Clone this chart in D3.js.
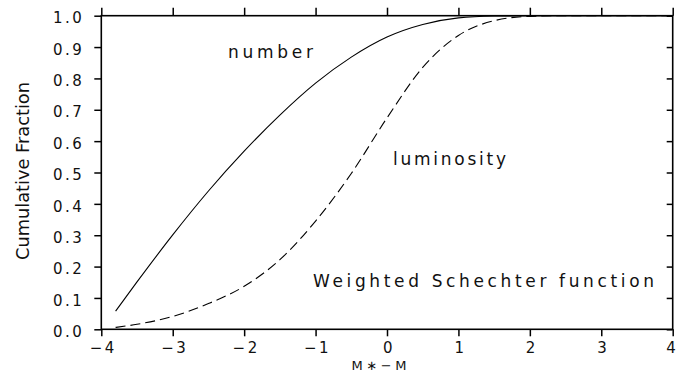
<!DOCTYPE html>
<html>
<head>
<meta charset="utf-8">
<script src="https://cdn.jsdelivr.net/npm/d3@7"></script>
<style>
  html, body { margin: 0; padding: 0; background: #fff; }
  svg { display: block; font-family: "DejaVu Sans", sans-serif; }
</style>
</head>
<body>
<div id="chart"></div>
<script>
const magDiff = [-3.8, -3.5, -3.0, -2.5, -2.0, -1.5, -1.0, -0.5, 0.0, 0.5, 1.0, 1.5, 2.0, 2.5, 3.0, 4.0];
const numberFrac = [0.058, 0.151, 0.301, 0.441, 0.568, 0.683, 0.785, 0.868, 0.932, 0.972, 0.993, 0.999, 1.0, 1.0, 1.0, 1.0];
const lumFrac = [0.006, 0.016, 0.041, 0.082, 0.137, 0.222, 0.345, 0.497, 0.674, 0.835, 0.937, 0.984, 0.998, 1.0, 1.0, 1.0];

const xTicks = [-4, -3, -2, -1, 0, 1, 2, 3, 4];
const yTicks = [0, 0.1, 0.2, 0.3, 0.4, 0.5, 0.6, 0.7, 0.8, 0.9, 1.0];

const W = 677, H = 375;
const margin = { top: 15.7, right: 4.3, bottom: 45.7, left: 101.3 };
const iw = W - margin.left - margin.right;
const ih = H - margin.top - margin.bottom;
const font = '"DejaVu Sans", sans-serif';

const svg = d3.select('#chart').append('svg')
  .attr('width', W)
  .attr('height', H);

const g = svg.append('g')
  .attr('transform', `translate(${margin.left},${margin.top})`);

const x = d3.scaleLinear().domain([-4, 4]).range([0, iw]);
const y = d3.scaleLinear().domain([0, 1]).range([ih, 0]);

const minus = v => d3.format('d')(v).replace('-', '\u2212');

// axes
const styleAxis = sel => {
  sel.attr('font-family', font);
  sel.select('.domain').remove();
  sel.selectAll('.tick line').attr('stroke', '#000').attr('stroke-width', 1.5);
  sel.selectAll('text')
    .attr('font-size', 15)
    .attr('fill', '#111')
    .attr('letter-spacing', '2.5px');
};

g.append('g')
  .attr('transform', `translate(0,${ih})`)
  .call(d3.axisBottom(x).tickValues(xTicks).tickFormat(minus).tickSize(7).tickPadding(6))
  .call(styleAxis)
  .call(s => s.selectAll('text').attr('dx', d => d === 4 ? '-1px' : '1.5px'));

g.append('g')
  .call(d3.axisTop(x).tickValues(xTicks).tickFormat('').tickSize(8))
  .call(styleAxis);

g.append('g')
  .call(d3.axisLeft(y).tickValues(yTicks).tickFormat(d3.format('.1f')).tickSize(7).tickPadding(10))
  .call(styleAxis)
  .call(s => s.selectAll('text').attr('dy', '0.48em'));

g.append('g')
  .attr('transform', `translate(${iw},0)`)
  .call(d3.axisLeft(y).tickValues(yTicks).tickFormat('').tickSize(6))
  .call(styleAxis)
  .call(s => s.selectAll('.tick line').attr('x2', -6));

// frame
g.append('rect')
  .attr('width', iw)
  .attr('height', ih)
  .attr('fill', 'none')
  .attr('stroke', '#000')
  .attr('stroke-width', 1.6);

// curves
const line = d3.line()
  .x(d => x(d[0]))
  .y(d => y(d[1]))
  .curve(d3.curveMonotoneX);

g.append('path')
  .datum(d3.zip(magDiff, numberFrac))
  .attr('d', line)
  .attr('fill', 'none')
  .attr('stroke', '#000')
  .attr('stroke-width', 1.1);

g.append('path')
  .datum(d3.zip(magDiff, lumFrac))
  .attr('d', line)
  .attr('fill', 'none')
  .attr('stroke', '#000')
  .attr('stroke-width', 1.1)
  .attr('stroke-dasharray', '10,5');

// annotations
const notes = [
  { text: 'number', mx: -2.226, f: 0.865, len: 85 },
  { text: 'luminosity', mx: 0.084, f: 0.524, len: 113 },
  { text: 'Weighted Schechter function', mx: -1.036, f: 0.135, len: 341 }
];
g.selectAll('text.note')
  .data(notes)
  .join('text')
  .attr('class', 'note')
  .attr('x', d => x(d.mx))
  .attr('y', d => y(d.f))
  .attr('font-family', font)
  .attr('font-size', 17)
  .attr('fill', '#111')
  .attr('textLength', d => d.len)
  .attr('lengthAdjust', 'spacing')
  .text(d => d.text);

// axis titles
svg.append('text')
  .attr('x', 379)
  .attr('y', 370)
  .attr('text-anchor', 'middle')
  .attr('font-family', font)
  .attr('font-size', 13)
  .attr('fill', '#111')
  .attr('textLength', 55)
  .attr('lengthAdjust', 'spacing')
  .text('M\u2217\u2212M');

svg.append('text')
  .attr('transform', `translate(29,171) rotate(-90)`)
  .attr('text-anchor', 'middle')
  .attr('font-family', font)
  .attr('font-size', 17)
  .attr('fill', '#111')
  .attr('textLength', 178)
  .attr('lengthAdjust', 'spacingAndGlyphs')
  .text('Cumulative Fraction');
</script>
</body>
</html>
